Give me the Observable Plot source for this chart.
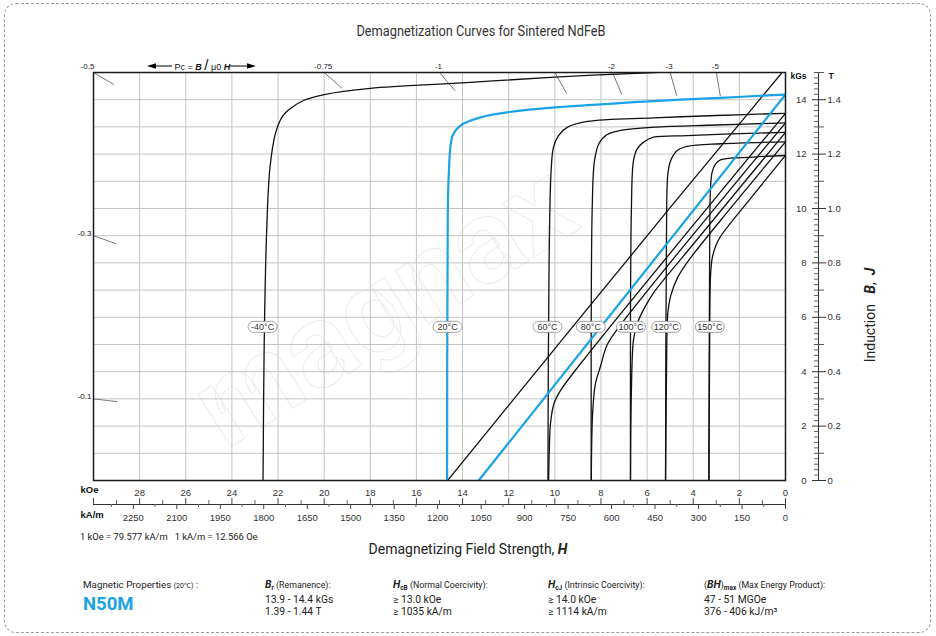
<!DOCTYPE html>
<html><head><meta charset="utf-8">
<script src="https://cdn.jsdelivr.net/npm/d3@7"></script>
<script src="https://cdn.jsdelivr.net/npm/@observablehq/plot@0.6"></script>
<style>
body{margin:0;background:#fff;}
#page{position:relative;width:936px;height:636px;overflow:hidden;font-family:Roboto,"Liberation Sans",sans-serif;color:#222;}
#border{position:absolute;left:4px;top:3px;width:927px;height:630px;border:1px dashed #9a9a9a;border-radius:12px;box-sizing:border-box;}
#chart{position:absolute;left:0;top:40px;}
.abs{position:absolute;white-space:nowrap;}
#title{left:0;width:962px;top:22px;text-align:center;font-size:14.5px;line-height:20px;color:#333;transform:scaleX(0.88);}
#xtitle{left:0;width:936px;top:539px;text-align:center;font-size:14px;line-height:20px;color:#222;}
#ytitle{left:870px;top:315px;transform:translate(-50%,-50%) rotate(-90deg);font-size:14px;color:#222;}
#conv{left:80px;top:530px;font-size:9.4px;line-height:14px;color:#222;}
#pc{left:147px;top:58px;height:14px;line-height:14px;font-family:"Liberation Sans",Arial,sans-serif;font-size:9px;color:#111;}
#pc > *{display:inline-block;vertical-align:middle;}
.prop{font-size:10.3px;line-height:12px;color:#222;}
.prop .hd{font-size:8.8px;}
.prop b i{font-size:10.5px}
.sub{font-size:6.5px;font-weight:bold;vertical-align:-2px;}
</style></head>
<body><div id="page">
<div id="border"></div>
<div id="title" class="abs">Demagnetization Curves for Sintered NdFeB</div>
<div id="chart"></div>
<div id="pc" class="abs"><svg width="25" height="8"><path d="M0,4L9,1.2L9,6.8Z" fill="#000"/><line x1="8" y1="4" x2="25" y2="4" stroke="#000" stroke-width="1"/></svg><span>&nbsp;Pc = <b><i>B</i></b>&nbsp;<span style="font-size:15px;line-height:14px">/</span>&nbsp;μ0&nbsp;<b><i>H</i></b></span><svg width="26" height="8"><line x1="0" y1="4" x2="17" y2="4" stroke="#000" stroke-width="1"/><path d="M26,4L17,1.2L17,6.8Z" fill="#000"/></svg></div>
<div id="ytitle" class="abs">Induction&nbsp;&nbsp;&nbsp;<b><i>B</i></b>,&nbsp;&nbsp;<b><i>J</i></b></div>
<div id="conv" class="abs">1 kOe = 79.577 kA/m&nbsp;&nbsp; 1 kA/m = 12.566 Oe</div>
<div id="xtitle" class="abs">Demagnetizing Field Strength, <b><i>H</i></b></div>
<div class="abs prop" style="left:83px;top:579px;font-size:9.8px">Magnetic Properties <span style="font-size:7px">(20℃)</span> :</div>
<div class="abs" style="left:83px;top:592px;font-size:18.5px;font-weight:bold;color:#1aa3e6;line-height:24px">N50M</div>
<div class="abs prop" style="left:265px;top:579px"><span class="hd"><b><i>B</i></b><span class="sub">r</span> (Remanence):</span><br>13.9 - 14.4 kGs<br>1.39 - 1.44 T</div>
<div class="abs prop" style="left:393px;top:579px"><span class="hd"><b><i>H</i></b><span class="sub">cB</span> (Normal Coercivity):</span><br>≥ 13.0 kOe<br>≥ 1035 kA/m</div>
<div class="abs prop" style="left:548px;top:579px"><span class="hd"><b><i>H</i></b><span class="sub">cJ</span> (Intrinsic Coercivity):</span><br>≥ 14.0 kOe<br>≥ 1114 kA/m</div>
<div class="abs prop" style="left:704px;top:579px"><span class="hd">(<b><i>BH</i></b>)<span class="sub">max</span> (Max Energy Product):</span><br>47 - 51 MGOe<br>376 - 406 kJ/m³</div>
</div>
<script>
// ---------------- data ----------------
const temperatures = ["-40°C","20°C","60°C","80°C","100°C","120°C","150°C"];
// intrinsic curves J(H): [H kOe, J kGs]
const jM40 = [[0,15.25],[3,15.1],[5.7,15.0],[10,14.83],[14,14.62],[18,14.42],[20,14.19],[20.9,13.97],[21.46,13.68],[21.8,13.4],[22.1,12.8],[22.35,11.5],[22.5,9],[22.6,5],[22.65,0]];
const j20  = [[0,14.19],[2.82,14.07],[5.72,13.95],[8.6,13.8],[11.49,13.6],[13.22,13.35],[14.09,13.05],[14.43,12.68],[14.6,11.2],[14.65,8],[14.67,0]];
const j60  = [[0,13.5],[3,13.42],[5.72,13.33],[8.58,13.2],[9.45,12.99],[9.84,12.68],[10.06,12.25],[10.16,11.4],[10.25,8],[10.3,0]];
const j80  = [[0,13.15],[3,13.07],[5.72,12.99],[7.15,12.87],[7.73,12.72],[8.09,12.38],[8.28,11.76],[8.38,10],[8.42,0]];
const j100 = [[0,12.8],[2,12.75],[4.26,12.68],[5.72,12.62],[6.15,12.44],[6.43,12.19],[6.59,11.76],[6.68,10],[6.72,0]];
const j120 = [[0,12.45],[2.82,12.38],[4.26,12.28],[4.69,12.13],[4.98,11.76],[5.1,11.27],[5.16,9],[5.2,0]];
const j150 = [[0,11.95],[1.39,11.89],[2.82,11.79],[3.03,11.64],[3.18,11.34],[3.25,10.78],[3.29,8],[3.32,0]];
// normal curves B(H): [H kOe, B kGs]
const bM40 = [[0,15.15],[5.1,9.93],[14.65,0]];
const b20  = [[0,14.19],[13.3,0]];
const b60  = [[0,13.5],[8.58,4.62],[9.75,3.31],[10.04,2.82],[10.19,2.08],[10.24,1.1],[10.27,0]];
const b80  = [[0,13.15],[7.15,5.72],[7.73,4.99],[8.02,4.2],[8.24,3.56],[8.36,2.5],[8.42,0]];
const b100 = [[0,12.8],[4.26,8.42],[5.72,6.9],[6.15,6.29],[6.43,5.76],[6.59,5.17],[6.68,3.32],[6.72,0]];
const b120 = [[0,12.45],[2.82,9.56],[4.26,8.02],[4.69,7.44],[4.98,6.78],[5.1,6.17],[5.16,3.84],[5.2,0]];
const b150 = [[0,11.95],[1.39,10.5],[2.82,8.97],[3.03,8.61],[3.18,8.16],[3.25,7.53],[3.29,4.71],[3.32,0]];
// temperature label positions along H (at the coercivity drop)
const labelH = [22.67,14.65,10.32,8.44,6.7,5.17,3.28];
// permeance coefficient load lines
const pcValues = [-0.5,-0.75,-1,-1.5,-2,-3,-5,-0.3,-0.1];
const pcLabels = ["-0.5","-0.75","-1","","-2","-3","-5","-0.3","-0.1"];
// tick labels
const kOeTickLabels = [28,26,24,22,20,18,16,14,12,10,8,6,4,2,0];
const kAmTickLabels = [2250,2100,1950,1800,1650,1500,1350,1200,1050,900,750,600,450,300,150,0];
const kGsTickLabels = [0,2,4,6,8,10,12,14];
const teslaTickLabels = ["0","0.2","0.4","0.6","0.8","1.0","1.2","1.4"];

// ---------------- build ----------------
const W = 936, HS = 530, mL = 93, mR = 151, mT = 32, mB = 90;
const xMax = 30, yMax = 15;
const kx = (W - mL - mR) / xMax, ky = (HS - mT - mB) / yMax;
const blue = "#1aa3e6";
const jCurves = [jM40,j20,j60,j80,j100,j120,j150];
const bCurves = [bM40,b20,b60,b80,b100,b120,b150];
const rows = [];
jCurves.forEach((c,i)=>c.forEach(([H,B])=>rows.push({temp:temperatures[i],kind:"J",H,B})));
bCurves.forEach((c,i)=>c.forEach(([H,B])=>rows.push({temp:temperatures[i],kind:"B",H,B})));
const blackRows = rows.filter(d=>d.temp!=="20°C");
const blueRows = rows.filter(d=>d.temp==="20°C");
const labelRows = temperatures.map((t,i)=>({temp:t,H:labelH[i]}));
const labelB = 5.65;

const segLen = 24;
const pcRows = pcValues.map((pc,i)=>{
  const p = -pc, He = Math.min(xMax, yMax/p), Be = p*He;
  const f = 1 - segLen/Math.hypot(He*kx, Be*ky);
  return {label:pcLabels[i],H1:He,B1:Be,H2:He*f,B2:Be*f,top:He<xMax-1e-9,left:Be<yMax-1e-9};
});

const pill = {draw(ctx){const w=14.5,h=5.5;ctx.moveTo(-w+h,-h);ctx.lineTo(w-h,-h);ctx.arc(w-h,0,h,-Math.PI/2,Math.PI/2);ctx.lineTo(-w+h,h);ctx.arc(-w+h,0,h,Math.PI/2,Math.PI*3/2);ctx.closePath();}};

const gridX = d3.range(2, xMax, 2);
const gridY = d3.range(1, yMax, 1);
const kOeTicks = d3.range(0, xMax+1, 1);
const kAmTicks = d3.range(0, 2400, 75);
const kGsMinor = d3.range(0, yMax*5+1).map(i=>i/5).filter(v=>Math.abs(v-Math.round(v))>1e-6);
const kGsInt = d3.range(0, yMax+1);
const axisDy = 24;
const zero = () => 0, full = () => xMax;

const chart = Plot.plot({
  width: W, height: HS, marginLeft: mL, marginRight: mR, marginTop: mT, marginBottom: mB,
  x: {domain:[xMax,0], axis:null},
  y: {domain:[0,yMax], axis:null},
  style: {fontFamily:"'Liberation Sans', Arial, sans-serif", fontSize:"9.5px", color:"#333", background:"transparent", overflow:"visible"},
  marks: [
    Plot.text(["magnax"], {frameAnchor:"middle", dx:-55, dy:30, rotate:-32, fontSize:118, fontWeight:"bold", fill:"none", stroke:"#ececec", strokeWidth:1, fontFamily:"Roboto"}),
    Plot.ruleX(gridX, {x:d=>d, stroke:"#c4c4c4", strokeWidth:1}),
    Plot.ruleY(gridY, {y:d=>d, stroke:"#c4c4c4", strokeWidth:1}),
    Plot.link(pcRows, {x1:"H1", y1:"B1", x2:"H2", y2:"B2", stroke:"#777", strokeWidth:1}),
    Plot.text(pcRows.filter(d=>d.top && d.label), {x:"H1", y:"B1", text:"label", dy:-6, dx:-1, fontSize:8, fill:"#222"}),
    Plot.text(pcRows.filter(d=>d.left && !d.top), {x:"H1", y:"B1", text:"label", dx:-2, dy:-2, textAnchor:"end", fontSize:8, fill:"#222"}),
    Plot.text(pcRows.filter(d=>!d.left && !d.top), {x:"H1", y:"B1", text:"label", dx:-6, dy:-6, fontSize:8, fill:"#222"}),
    Plot.line(blackRows, {x:"H", y:"B", z:d=>d.temp+d.kind, stroke:"#111", strokeWidth:1.3, curve:"catmull-rom", clip:true}),
    Plot.line(blueRows, {x:"H", y:"B", z:"kind", stroke:blue, strokeWidth:2.2, curve:"catmull-rom", clip:true}),
    Plot.dot(labelRows, {x:"H", y:()=>labelB, symbol:pill, fill:"white", stroke:"#8c8c8c", strokeWidth:0.8}),
    Plot.text(labelRows, {x:"H", y:()=>labelB, text:"temp", fontSize:9, fill:"#333"}),
    Plot.frame({stroke:"#1a1a1a", strokeWidth:1.5}),
    // bottom double axis
    Plot.ruleY([0], {y:d=>d, x1:full, x2:zero, dy:axisDy, stroke:"#333", strokeWidth:1}),
    Plot.ruleX(kOeTicks.filter(d=>d%2===0), {x:d=>d, y1:zero, y2:zero, dy:axisDy, insetTop:-6, stroke:"#444"}),
    Plot.ruleX(kOeTicks.filter(d=>d%2===1), {x:d=>d, y1:zero, y2:zero, dy:axisDy, insetTop:-4, stroke:"#666"}),
    Plot.ruleX(kAmTicks.filter(d=>d%150===0), {x:d=>d/79.577, y1:zero, y2:zero, dy:axisDy, insetBottom:-5, stroke:"#444"}),
    Plot.ruleX(kAmTicks.filter(d=>d%150!==0), {x:d=>d/79.577, y1:zero, y2:zero, dy:axisDy, insetBottom:-3, stroke:"#666"}),
    Plot.text(kOeTickLabels, {x:d=>d, y:zero, dy:12, text:d=>String(d), fill:"#333"}),
    Plot.text(kAmTickLabels, {x:d=>d/79.577, y:zero, dy:37, text:d=>String(d), fill:"#333"}),
    Plot.text(["kOe"], {frameAnchor:"bottom-left", dx:-13, dy:12, textAnchor:"start", fontWeight:"bold", fill:"#111"}),
    Plot.text(["kA/m"], {frameAnchor:"bottom-left", dx:-13, dy:37, textAnchor:"start", fontWeight:"bold", fill:"#111"}),
    // right double axis
    Plot.ruleX([0], {x:d=>d, dx:33, stroke:"#333"}),
    Plot.ruleY(kGsMinor, {y:d=>d, x1:zero, x2:zero, dx:33, insetLeft:-4, stroke:"#666"}),
    Plot.ruleY(kGsInt.filter(d=>d%2===1), {y:d=>d, x1:zero, x2:zero, dx:33, insetLeft:-4, insetRight:-6, stroke:"#555"}),
    Plot.ruleY(kGsInt.filter(d=>d%2===0), {y:d=>d, x1:zero, x2:zero, dx:33, insetLeft:-6, insetRight:-8, stroke:"#333"}),
    Plot.text(kGsTickLabels, {x:zero, y:d=>d, dx:21, textAnchor:"end", text:d=>String(d), fill:"#333"}),
    Plot.text(teslaTickLabels, {x:zero, y:(d,i)=>kGsTickLabels[i], dx:42, textAnchor:"start", fill:"#333"}),
    Plot.text(["kGs"], {frameAnchor:"top-right", dx:21, textAnchor:"end", fontWeight:"bold", fontSize:8.5, fill:"#111"}),
    Plot.text(["T"], {frameAnchor:"top-right", dx:43, textAnchor:"start", fontWeight:"bold", fontSize:8.5, fill:"#111"})
  ]
});
document.getElementById("chart").appendChild(chart);
</script>
</body></html>
